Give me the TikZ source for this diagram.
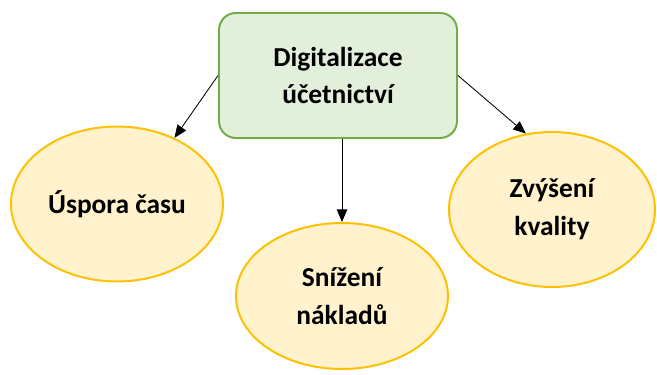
\documentclass[tikz,border=0pt]{standalone}
\usepackage{fontspec}
\setmainfont{Carlito}
\usepackage{xcolor}
\usepackage{tikz}
\usetikzlibrary{positioning}
\usetikzlibrary{shapes.geometric}
\usetikzlibrary{arrows.meta}

\definecolor{topfill}{HTML}{E2EFDA}
\definecolor{topline}{HTML}{70AD47}
\definecolor{leaffill}{HTML}{FFF2CC}
\definecolor{leafline}{HTML}{FFC000}

\tikzset{
  topbox/.style={rectangle,rounded corners=12pt,draw=topline,fill=topfill,line width=1.4pt,
    minimum width=5.95cm,minimum height=3.125cm,align=center,inner sep=0pt},
  leaf/.style={ellipse,draw=leafline,fill=leaffill,line width=1.4pt,align=center,inner sep=0pt},
  lbl/.style={font=\fontsize{19.5}{27}\selectfont\bfseries}
}

\begin{document}
\begin{tikzpicture}[->,>={Triangle[length=9pt,width=7.5pt]},semithick]

    \useasboundingbox (0,0) rectangle (16.425,9.35);

    \node[topbox,lbl] (dig) at (8.45,7.4625) {Digitalizace\\účetnictví};
    \node[leaf,lbl,minimum width=5.3cm,minimum height=3.875cm] (usp) at (2.925,4.25) {Úspora času};
    \node[leaf,lbl,minimum width=5.3cm,minimum height=3.65cm] (sni) at (8.55,1.95) {Snížení\\nákladů};
    \node[leaf,lbl,minimum width=5.15cm,minimum height=3.875cm] (zvy) at (13.8,4.1125) {Zvýšení\\kvality};

    \path (dig.west)   edge        node {} (usp.49)
    (dig.south -| sni.north)   edge        node {} (sni.north)
    (dig.east)   edge        node {} (zvy.109);

\end{tikzpicture}
\end{document}
